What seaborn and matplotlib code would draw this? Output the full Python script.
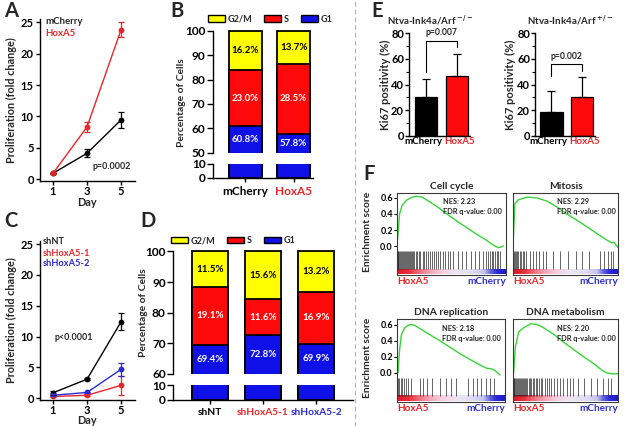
import numpy as np
import pandas as pd
import matplotlib
matplotlib.use("Agg")
import matplotlib.pyplot as plt
import matplotlib.transforms as mtrans
import seaborn as sns
from matplotlib.patches import Patch
from matplotlib.lines import Line2D
from matplotlib.colors import LinearSegmentedColormap
from matplotlib.ticker import MultipleLocator

# ---------------- data ----------------
days = [1, 3, 5]
a_mcherry = [0.96, 4.14, 9.45]
a_mcherry_err = [0.1, 0.66, 1.25]
a_hoxa5 = [0.96, 8.33, 23.8]
a_hoxa5_err = [0.1, 0.75, 1.15]

c_shnt = [0.9, 3.1, 12.4]
c_shnt_err = [0.35, 0.15, 1.4]
c_sh1 = [0.3, 0.5, 2.1]
c_sh1_err = [0.15, 0.15, 1.6]
c_sh2 = [0.5, 0.95, 4.7]
c_sh2_err = [0.2, 0.15, 1.0]

b_groups = ["mCherry", "HoxA5"]
b_g1 = [60.8, 57.8]
b_s = [23.0, 28.5]
b_g2m = [16.2, 13.7]

d_groups = ["shNT", "shHoxA5-1", "shHoxA5-2"]
d_g1 = [69.4, 72.8, 69.9]
d_s = [19.1, 11.6, 16.9]
d_g2m = [11.5, 15.6, 13.2]

e_groups = ["mCherry", "HoxA5"]
e_null_mean = [30.6, 46.7]
e_null_sd = [13.6, 17.2]
e_het_mean = [18.9, 30.1]
e_het_sd = [16.1, 15.6]
e_pvals = ["p=0.007", "p=0.002"]

gsea_names = ["Cell cycle", "Mitosis", "DNA replication", "DNA metabolism"]
gsea_nes = ["2.23", "2.29", "2.18", "2.20"]
gsea_fdr = ["0.00", "0.00", "0.00", "0.00"]

cc_x = [0.0, 0.024, 0.046, 0.09, 0.137, 0.18, 0.23, 0.27, 0.366, 0.457, 0.55, 0.64, 0.73, 0.82, 0.87, 0.90, 0.93, 0.96, 0.975]
cc_y = [0.0, 0.40, 0.506, 0.575, 0.609, 0.62, 0.61, 0.576, 0.494, 0.40, 0.31, 0.23, 0.148, 0.074, 0.025, 0.0, -0.02, -0.01, 0.005]
mit_x = [0.0, 0.018, 0.05, 0.086, 0.133, 0.229, 0.324, 0.419, 0.514, 0.61, 0.705, 0.8, 0.895, 0.943, 0.959, 1.0]
mit_y = [0.0, 0.53, 0.576, 0.59, 0.61, 0.60, 0.56, 0.486, 0.40, 0.32, 0.24, 0.156, 0.074, 0.04, 0.05, -0.016]
rep_x = [0.009, 0.025, 0.04, 0.071, 0.102, 0.133, 0.164, 0.211, 0.303, 0.396, 0.489, 0.582, 0.675, 0.768, 0.83, 0.876, 0.907, 0.954]
rep_y = [0.0, 0.30, 0.47, 0.56, 0.59, 0.60, 0.59, 0.55, 0.475, 0.40, 0.32, 0.24, 0.167, 0.10, 0.058, 0.05, 0.03, -0.025]
met_x = [0.006, 0.022, 0.054, 0.102, 0.165, 0.229, 0.292, 0.387, 0.483, 0.578, 0.673, 0.768, 0.848, 0.895, 0.943, 1.0]
met_y = [0.0, 0.32, 0.51, 0.56, 0.61, 0.60, 0.56, 0.48, 0.38, 0.29, 0.20, 0.116, 0.033, 0.0, -0.01, -0.01]

cc_hits = [0.005, 0.012, 0.02, 0.028, 0.036, 0.045, 0.053, 0.062, 0.07, 0.079, 0.088, 0.097, 0.106,
           0.116, 0.126, 0.137, 0.148, 0.16, 0.172, 0.185, 0.198, 0.212, 0.235, 0.252, 0.27, 0.288,
           0.305, 0.322, 0.34, 0.357, 0.375, 0.392, 0.42, 0.44, 0.465, 0.49, 0.515, 0.56, 0.6, 0.635,
           0.675, 0.715, 0.75, 0.785, 0.82, 0.838, 0.855, 0.87, 0.885, 0.9, 0.915, 0.93, 0.945]
mit_hits = [0.006, 0.016, 0.027, 0.038, 0.05, 0.063, 0.078, 0.093, 0.108, 0.125, 0.16, 0.19, 0.22,
            0.25, 0.285, 0.31, 0.38, 0.45, 0.52, 0.6, 0.66, 0.72, 0.83, 0.87, 0.9, 0.93, 0.95]
rep_hits = [0.008, 0.022, 0.035, 0.05, 0.065, 0.08, 0.1, 0.13, 0.21, 0.24, 0.28, 0.32, 0.4, 0.45,
            0.5, 0.55, 0.66, 0.7, 0.74, 0.78, 0.82, 0.86, 0.9]
met_hits = [0.006, 0.014, 0.022, 0.03, 0.038, 0.046, 0.055, 0.064, 0.073, 0.082, 0.092, 0.102, 0.113,
            0.124, 0.136, 0.148, 0.16, 0.173, 0.186, 0.2, 0.215, 0.23, 0.246, 0.262, 0.28, 0.3, 0.32,
            0.34, 0.365, 0.39, 0.42, 0.45, 0.48, 0.51, 0.54, 0.57, 0.62, 0.68, 0.74, 0.8, 0.86, 0.9, 0.93]

# ---------------- style ----------------
sns.set_style("ticks")
plt.rcParams.update({
    "font.family": ["Lato", "DejaVu Sans"],
    "font.weight": "bold",
    "axes.labelweight": "bold",
    "axes.linewidth": 1.0,
    "xtick.major.width": 1.0,
    "ytick.major.width": 1.0,
    "xtick.color": "black",
    "ytick.color": "black",
    "axes.edgecolor": "black",
})

RED = "#e8262a"
BLUE = "#2a2ad0"
BAR_RED = "#ff0a0a"
BAR_BLUE = "#1010e8"
BAR_YEL = "#ffff00"

W, H = 625, 426
fig = plt.figure(figsize=(W / 100, H / 100), dpi=100)


def rect(l, t, r, b):
    return [l / W, 1 - b / H, (r - l) / W, (b - t) / H]


def ftext(x, y, s, **kw):
    kw.setdefault("ha", "center")
    kw.setdefault("va", "center")
    fig.text(x / W, 1 - y / H, s, **kw)


# ---------------- panel letters ----------------
for letter, x, y in [("A", 4, 1), ("B", 170, 1), ("C", 4, 211), ("D", 140, 211), ("E", 371, 1), ("F", 363, 164)]:
    ftext(x, y, letter, ha="left", va="top", fontsize=14.5, fontweight="bold")

# dashed separator
fig.add_artist(Line2D([355 / W, 355 / W], [0, 1], color="#9fb3cc", lw=0.8, ls=(0, (4, 3))))


# ---------------- A & C growth curves ----------------
def growth(ax, series, errs, colors, names):
    rows = []
    for name, vals in zip(names, series):
        for d, v in zip(days, vals):
            rows.append({"day": d, "value": v, "group": name})
    df = pd.DataFrame(rows)
    sns.lineplot(data=df, x="day", y="value", hue="group", palette=dict(zip(names, colors)),
                 marker="o", markersize=4.2, markeredgewidth=0, linewidth=1.0, legend=False,
                 estimator=None, ax=ax)
    for vals, e, c in zip(series, errs, colors):
        ax.errorbar(days, vals, yerr=e, fmt="none", ecolor=c, elinewidth=0.9, capsize=2.2, capthick=0.9)
    ax.set_xlim(0.235, 5.82)
    ax.set_ylim(-0.27, 25.5)
    ax.set_xticks(days)
    ax.set_yticks([0, 5, 10, 15, 20, 25])
    ax.tick_params(labelsize=8, length=3, pad=1.5)
    ax.tick_params(axis="x", pad=0.8)
    ax.set_xlabel("")
    ax.set_ylabel("")
    sns.despine(ax=ax)


axA = fig.add_axes(rect(40, 19, 135, 181))
growth(axA, [a_mcherry, a_hoxa5], [a_mcherry_err, a_hoxa5_err], ["black", RED], ["mCherry", "HoxA5"])
ftext(11, 100, "Proliferation (fold change)", rotation=90, fontsize=7.8)
ftext(87, 202.5, "Day", fontsize=7.8)
ftext(45, 21, "mCherry", ha="left", fontsize=6.9)
ftext(45, 33, "HoxA5", ha="left", fontsize=6.9, color=RED)
ftext(112, 166, "p=0.0002", fontsize=6.4)

axC = fig.add_axes(rect(40, 241, 135, 400))
growth(axC, [c_shnt, c_sh1, c_sh2], [c_shnt_err, c_sh1_err, c_sh2_err], ["black", RED, BLUE],
       ["shNT", "shHoxA5-1", "shHoxA5-2"])
ftext(11, 320, "Proliferation (fold change)", rotation=90, fontsize=7.8)
ftext(87, 420.5, "Day", fontsize=7.8)
ftext(43, 242, "shNT", ha="left", fontsize=6.7)
ftext(43, 253, "shHoxA5-1", ha="left", fontsize=6.7, color=RED)
ftext(43, 264, "shHoxA5-2", ha="left", fontsize=6.7, color=BLUE)
ftext(74, 338, "p<0.0001", fontsize=6.4)


# ---------------- B & D stacked bars ----------------
def stacked(ax_top, ax_bot, groups, g1, s, g2m, ylo, xlim, tick_colors, xfs):
    df = pd.DataFrame({"group": groups,
                       "top": [a + b + c for a, b, c in zip(g1, s, g2m)],
                       "mid": [a + b for a, b in zip(g1, s)],
                       "low": list(g1)})
    for ax in (ax_top, ax_bot):
        for col, colr in [("top", BAR_YEL), ("mid", BAR_RED), ("low", BAR_BLUE)]:
            sns.barplot(data=df, x="group", y=col, color=colr, saturation=1, width=0.68,
                        edgecolor="black", linewidth=1.3, errorbar=None, ax=ax)
        ax.set_xlim(*xlim)
        ax.set_xlabel("")
        ax.set_ylabel("")
    ax_top.set_ylim(ylo, 100.7)
    ax_top.spines["left"].set_bounds(ylo, 100)
    ax_top.set_yticks(list(range(ylo, 101, 10)))
    ax_top.set_xticks([])
    sns.despine(ax=ax_top, bottom=True)
    ax_bot.set_ylim(0, 10)
    ax_bot.set_yticks([0, 10])
    sns.despine(ax=ax_bot)
    for ax in (ax_top, ax_bot):
        ax.tick_params(axis="y", labelsize=8.6, length=4, pad=1.5)
    ax_bot.tick_params(axis="x", labelsize=xfs, length=3, pad=3)
    for lab, c in zip(ax_bot.get_xticklabels(), tick_colors):
        lab.set_color(c)
        lab.set_fontweight("bold")
    # segment labels
    for i in range(len(groups)):
        segs = [(0, g1[i], g1[i], "white"), (g1[i], g1[i] + s[i], s[i], "white"),
                (g1[i] + s[i], 100, g2m[i], "black")]
        for lo, hi, val, tc in segs:
            lo = max(lo, ylo)
            ax_top.text(i, (lo + hi) / 2, f"{val:.1f}%", ha="center", va="center",
                        color=tc, fontsize=7, fontweight="bold")


axB1 = fig.add_axes(rect(213, 29.2, 313, 152.7))
axB2 = fig.add_axes(rect(213, 164, 313, 177.7))
stacked(axB1, axB2, b_groups, b_g1, b_s, b_g2m, 50, (-0.66, 1.40), ["black", RED], 8.5)
ftext(182, 103, "Percentage of Cells", rotation=90, fontsize=7.4)

axD1 = fig.add_axes(rect(173.3, 249.3, 353, 374))
axD2 = fig.add_axes(rect(173.3, 385.3, 353, 400))
stacked(axD1, axD2, d_groups, d_g1, d_s, d_g2m, 60, (-0.69, 2.69), ["black", RED, BLUE], 7.3)
ftext(143, 313, "Percentage of Cells", rotation=90, fontsize=7.4)

leg_handles = [Patch(facecolor=BAR_YEL, edgecolor="black", lw=1.0),
               Patch(facecolor=BAR_RED, edgecolor="black", lw=1.0),
               Patch(facecolor=BAR_BLUE, edgecolor="black", lw=1.0)]
for cx, cy in [(270, 19), (233, 241)]:
    fig.legend(leg_handles, ["G2/M", "S", "G1"], loc="center", bbox_to_anchor=(cx / W, 1 - cy / H),
               ncol=3, frameon=False, fontsize=6.5, handlelength=1.9, handleheight=0.7,
               handletextpad=0.3, columnspacing=1.3, borderpad=0, borderaxespad=0)


# ---------------- E Ki67 bars ----------------
def ki67(ax, means, sds, pval, bracket, xlim):
    df = pd.DataFrame({"group": e_groups, "value": means})
    sns.barplot(data=df, x="group", y="value", hue="group", palette=["black", BAR_RED], saturation=1,
                width=0.74, edgecolor="black", linewidth=0.9, errorbar=None, legend=False, ax=ax)
    ax.errorbar([0, 1], means, yerr=[[0, 0], sds], fmt="none", ecolor="black", elinewidth=0.9,
                capsize=3.2, capthick=0.9)
    l_low, top, r_low = bracket
    ax.plot([0, 0, 1, 1], [l_low, top, top, r_low], color="black", lw=0.8, clip_on=False)
    ax.text(0.5, top + 3, pval, ha="center", va="bottom", fontsize=6.2, fontweight="bold")
    ax.set_xlim(*xlim)
    ax.set_ylim(0, 80)
    ax.set_yticks([0, 20, 40, 60, 80])
    ax.yaxis.set_minor_locator(MultipleLocator(10))
    ax.tick_params(axis="y", which="major", labelsize=8.0, length=3, pad=0.6)
    ax.tick_params(axis="y", which="minor", length=2, width=0.8)
    ax.tick_params(axis="x", labelsize=7.0, length=0, pad=0.5)
    for lab, c, dx in zip(ax.get_xticklabels(), ["black", RED], [-3, 3]):
        lab.set_color(c)
        lab.set_fontweight("bold")
        lab.set_transform(lab.get_transform() + mtrans.ScaledTranslation(dx / 100, 0, fig.dpi_scale_trans))
    ax.set_xlabel("")
    ax.set_ylabel("")
    sns.despine(ax=ax)


axE1 = fig.add_axes(rect(409, 33.3, 470, 136))
ki67(axE1, e_null_mean, e_null_sd, e_pvals[0], (50, 74, 69.6), (-0.55, 1.42))
axE2 = fig.add_axes(rect(535, 33.3, 595, 136))
ki67(axE2, e_het_mean, e_het_sd, e_pvals[1], (46.7, 55.8, 50.9), (-0.52, 1.42))
ftext(385, 85, "Ki67 positivity (%)", rotation=90, fontsize=8.0)
ftext(510, 85, "Ki67 positivity (%)", rotation=90, fontsize=8.0)
ftext(430, 20, r"Ntva-Ink4a/Arf $^{-/-}$", fontsize=7)
ftext(570, 20, r"Ntva-Ink4a/Arf $^{+/-}$", fontsize=7)

# ---------------- F GSEA ----------------
grad_cmap = LinearSegmentedColormap.from_list("rank", [
    (0.0, "#e01a2a"), (0.1, "#e8303e"), (0.2, "#f07282"), (0.3, "#f4a8b8"), (0.42, "#f6d2e2"),
    (0.55, "#ece6f2"), (0.7, "#dedcf4"), (0.8, "#c4c4f0"), (0.86, "#6464e0"), (0.92, "#2a2ad8"),
    (1.0, "#1a1ac8")])
grad = np.linspace(0, 1, 256)[None, :]


def gsea(ax, xs, ys, hits, title, nes, fdr, show_y):
    ax.imshow(grad, extent=(0.008, 0.992, -0.352, -0.29), aspect="auto", cmap=grad_cmap,
              interpolation="bilinear")
    ax.vlines(hits, -0.285, -0.06, color="#1a1a1a", lw=0.55, alpha=0.85)
    sns.lineplot(x=xs, y=ys, color="#36d636", lw=1.0, estimator=None, sort=False, ax=ax)
    ax.set_xlim(0, 1)
    ax.set_ylim(-0.36, 0.665)
    ax.set_xticks([])
    for sp in ax.spines.values():
        sp.set_visible(True)
        sp.set_linewidth(0.8)
        sp.set_color("#3a3a3a")
    if show_y:
        ax.set_yticks([0.0, 0.2, 0.4, 0.6])
        ax.set_yticklabels(["0.0", "0.2", "0.4", "0.6"])
        ax.tick_params(axis="y", labelsize=6.4, length=2.5, width=0.8, pad=0.5)
    else:
        ax.set_yticks([])
    ax.set_title(title, fontsize=7.4, fontweight="bold", pad=3)
    ax.text(0.42, 0.55, f"NES: {nes}", fontsize=5.3, fontweight="bold", va="center", ha="left")
    ax.text(0.42, 0.425, f"FDR q-value: {fdr}", fontsize=5.3, fontweight="bold", va="center", ha="left")
    ax.text(0.0, -0.44, "HoxA5", transform=ax.transData, fontsize=7.2, color=RED, ha="left",
            va="center", fontweight="bold", clip_on=False)
    ax.text(1.0, -0.44, "mCherry", transform=ax.transData, fontsize=7.2, color="#3232cc", ha="right",
            va="center", fontweight="bold", clip_on=False)
    ax.set_xlabel("")
    ax.set_ylabel("")


f_rects = [rect(397, 192.7, 506, 275), rect(513, 192.7, 618, 275),
           rect(397, 319.3, 505, 402), rect(513, 319.3, 618, 402)]
curves = [(cc_x, cc_y, cc_hits), (mit_x, mit_y, mit_hits), (rep_x, rep_y, rep_hits), (met_x, met_y, met_hits)]
for i, (r, (xs, ys, hits)) in enumerate(zip(f_rects, curves)):
    ax = fig.add_axes(r)
    gsea(ax, xs, ys, hits, gsea_names[i], gsea_nes[i], gsea_fdr[i], i % 2 == 0)
ftext(368, 232, "Enrichment score", rotation=90, fontsize=7.4)
ftext(368, 358, "Enrichment score", rotation=90, fontsize=7.4)

fig.savefig("out.png", dpi=100)
